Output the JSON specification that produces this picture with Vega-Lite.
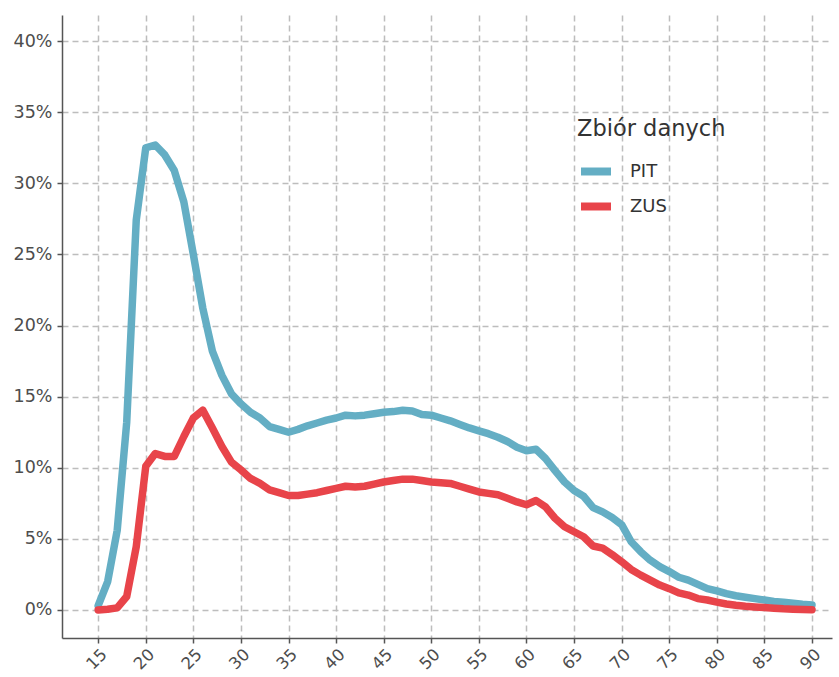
{
  "$schema": "https://vega.github.io/schema/vega-lite/v6.json",
  "width": 770,
  "height": 623,
  "autosize": {"type": "none"},
  "padding": {"left": 62, "top": 15, "right": 7, "bottom": 39},
  "background": "white",
  "config": {
    "view": {"stroke": null},
    "font": "DejaVu Sans",
    "axis": {
      "grid": true,
      "gridColor": "#bdbdbd",
      "gridDash": [6, 4],
      "gridWidth": 1.5,
      "domainColor": "#555555",
      "domainWidth": 1.5,
      "tickColor": "#555555",
      "tickSize": 5,
      "tickWidth": 1.5,
      "labelColor": "#4d4d4d",
      "labelFontSize": 17.5,
      "labelFont": "DejaVu Sans",
      "title": null
    }
  },
  "data": {
    "values": [
      {"age": 15, "set": "PIT", "v": 0.3}, {"age": 16, "set": "PIT", "v": 2.0}, {"age": 17, "set": "PIT", "v": 5.6}, {"age": 18, "set": "PIT", "v": 13.2}, {"age": 19, "set": "PIT", "v": 27.4},
      {"age": 20, "set": "PIT", "v": 32.5}, {"age": 21, "set": "PIT", "v": 32.7}, {"age": 22, "set": "PIT", "v": 32.0}, {"age": 23, "set": "PIT", "v": 30.9}, {"age": 24, "set": "PIT", "v": 28.7},
      {"age": 25, "set": "PIT", "v": 25.0}, {"age": 26, "set": "PIT", "v": 21.2}, {"age": 27, "set": "PIT", "v": 18.2}, {"age": 28, "set": "PIT", "v": 16.5}, {"age": 29, "set": "PIT", "v": 15.2},
      {"age": 30, "set": "PIT", "v": 14.5}, {"age": 31, "set": "PIT", "v": 13.9}, {"age": 32, "set": "PIT", "v": 13.5}, {"age": 33, "set": "PIT", "v": 12.9}, {"age": 34, "set": "PIT", "v": 12.7},
      {"age": 35, "set": "PIT", "v": 12.5}, {"age": 36, "set": "PIT", "v": 12.7}, {"age": 37, "set": "PIT", "v": 12.95}, {"age": 38, "set": "PIT", "v": 13.15}, {"age": 39, "set": "PIT", "v": 13.35},
      {"age": 40, "set": "PIT", "v": 13.5}, {"age": 41, "set": "PIT", "v": 13.7}, {"age": 42, "set": "PIT", "v": 13.65}, {"age": 43, "set": "PIT", "v": 13.7}, {"age": 44, "set": "PIT", "v": 13.8},
      {"age": 45, "set": "PIT", "v": 13.9}, {"age": 46, "set": "PIT", "v": 13.95}, {"age": 47, "set": "PIT", "v": 14.05}, {"age": 48, "set": "PIT", "v": 14.0}, {"age": 49, "set": "PIT", "v": 13.75},
      {"age": 50, "set": "PIT", "v": 13.7}, {"age": 51, "set": "PIT", "v": 13.5}, {"age": 52, "set": "PIT", "v": 13.3}, {"age": 53, "set": "PIT", "v": 13.05}, {"age": 54, "set": "PIT", "v": 12.8},
      {"age": 55, "set": "PIT", "v": 12.6}, {"age": 56, "set": "PIT", "v": 12.4}, {"age": 57, "set": "PIT", "v": 12.15}, {"age": 58, "set": "PIT", "v": 11.85}, {"age": 59, "set": "PIT", "v": 11.45},
      {"age": 60, "set": "PIT", "v": 11.2}, {"age": 61, "set": "PIT", "v": 11.3}, {"age": 62, "set": "PIT", "v": 10.65}, {"age": 63, "set": "PIT", "v": 9.8}, {"age": 64, "set": "PIT", "v": 9.0},
      {"age": 65, "set": "PIT", "v": 8.4}, {"age": 66, "set": "PIT", "v": 8.0}, {"age": 67, "set": "PIT", "v": 7.2}, {"age": 68, "set": "PIT", "v": 6.9}, {"age": 69, "set": "PIT", "v": 6.5},
      {"age": 70, "set": "PIT", "v": 6.0}, {"age": 71, "set": "PIT", "v": 4.8}, {"age": 72, "set": "PIT", "v": 4.1}, {"age": 73, "set": "PIT", "v": 3.5}, {"age": 74, "set": "PIT", "v": 3.05},
      {"age": 75, "set": "PIT", "v": 2.7}, {"age": 76, "set": "PIT", "v": 2.3}, {"age": 77, "set": "PIT", "v": 2.1}, {"age": 78, "set": "PIT", "v": 1.8}, {"age": 79, "set": "PIT", "v": 1.5},
      {"age": 80, "set": "PIT", "v": 1.35}, {"age": 81, "set": "PIT", "v": 1.15}, {"age": 82, "set": "PIT", "v": 1.0}, {"age": 83, "set": "PIT", "v": 0.9}, {"age": 84, "set": "PIT", "v": 0.8},
      {"age": 85, "set": "PIT", "v": 0.7}, {"age": 86, "set": "PIT", "v": 0.6}, {"age": 87, "set": "PIT", "v": 0.55}, {"age": 88, "set": "PIT", "v": 0.47}, {"age": 89, "set": "PIT", "v": 0.4},
      {"age": 90, "set": "PIT", "v": 0.35},
      {"age": 15, "set": "ZUS", "v": 0.0}, {"age": 16, "set": "ZUS", "v": 0.05}, {"age": 17, "set": "ZUS", "v": 0.15}, {"age": 18, "set": "ZUS", "v": 0.95}, {"age": 19, "set": "ZUS", "v": 4.45},
      {"age": 20, "set": "ZUS", "v": 10.1}, {"age": 21, "set": "ZUS", "v": 11.0}, {"age": 22, "set": "ZUS", "v": 10.8}, {"age": 23, "set": "ZUS", "v": 10.8}, {"age": 24, "set": "ZUS", "v": 12.2},
      {"age": 25, "set": "ZUS", "v": 13.5}, {"age": 26, "set": "ZUS", "v": 14.05}, {"age": 27, "set": "ZUS", "v": 12.8}, {"age": 28, "set": "ZUS", "v": 11.5}, {"age": 29, "set": "ZUS", "v": 10.4},
      {"age": 30, "set": "ZUS", "v": 9.85}, {"age": 31, "set": "ZUS", "v": 9.25}, {"age": 32, "set": "ZUS", "v": 8.9}, {"age": 33, "set": "ZUS", "v": 8.45}, {"age": 34, "set": "ZUS", "v": 8.25},
      {"age": 35, "set": "ZUS", "v": 8.05}, {"age": 36, "set": "ZUS", "v": 8.05}, {"age": 37, "set": "ZUS", "v": 8.15}, {"age": 38, "set": "ZUS", "v": 8.25}, {"age": 39, "set": "ZUS", "v": 8.4},
      {"age": 40, "set": "ZUS", "v": 8.55}, {"age": 41, "set": "ZUS", "v": 8.7}, {"age": 42, "set": "ZUS", "v": 8.65}, {"age": 43, "set": "ZUS", "v": 8.7}, {"age": 44, "set": "ZUS", "v": 8.85},
      {"age": 45, "set": "ZUS", "v": 9.0}, {"age": 46, "set": "ZUS", "v": 9.1}, {"age": 47, "set": "ZUS", "v": 9.2}, {"age": 48, "set": "ZUS", "v": 9.2}, {"age": 49, "set": "ZUS", "v": 9.1},
      {"age": 50, "set": "ZUS", "v": 9.0}, {"age": 51, "set": "ZUS", "v": 8.95}, {"age": 52, "set": "ZUS", "v": 8.9}, {"age": 53, "set": "ZUS", "v": 8.7}, {"age": 54, "set": "ZUS", "v": 8.5},
      {"age": 55, "set": "ZUS", "v": 8.3}, {"age": 56, "set": "ZUS", "v": 8.2}, {"age": 57, "set": "ZUS", "v": 8.1}, {"age": 58, "set": "ZUS", "v": 7.85}, {"age": 59, "set": "ZUS", "v": 7.6},
      {"age": 60, "set": "ZUS", "v": 7.4}, {"age": 61, "set": "ZUS", "v": 7.7}, {"age": 62, "set": "ZUS", "v": 7.25}, {"age": 63, "set": "ZUS", "v": 6.45}, {"age": 64, "set": "ZUS", "v": 5.85},
      {"age": 65, "set": "ZUS", "v": 5.5}, {"age": 66, "set": "ZUS", "v": 5.15}, {"age": 67, "set": "ZUS", "v": 4.5}, {"age": 68, "set": "ZUS", "v": 4.35}, {"age": 69, "set": "ZUS", "v": 3.9},
      {"age": 70, "set": "ZUS", "v": 3.4}, {"age": 71, "set": "ZUS", "v": 2.85}, {"age": 72, "set": "ZUS", "v": 2.45}, {"age": 73, "set": "ZUS", "v": 2.1}, {"age": 74, "set": "ZUS", "v": 1.75},
      {"age": 75, "set": "ZUS", "v": 1.5}, {"age": 76, "set": "ZUS", "v": 1.2}, {"age": 77, "set": "ZUS", "v": 1.05}, {"age": 78, "set": "ZUS", "v": 0.8}, {"age": 79, "set": "ZUS", "v": 0.7},
      {"age": 80, "set": "ZUS", "v": 0.55}, {"age": 81, "set": "ZUS", "v": 0.42}, {"age": 82, "set": "ZUS", "v": 0.33}, {"age": 83, "set": "ZUS", "v": 0.26}, {"age": 84, "set": "ZUS", "v": 0.21},
      {"age": 85, "set": "ZUS", "v": 0.17}, {"age": 86, "set": "ZUS", "v": 0.12}, {"age": 87, "set": "ZUS", "v": 0.08}, {"age": 88, "set": "ZUS", "v": 0.06}, {"age": 89, "set": "ZUS", "v": 0.04},
      {"age": 90, "set": "ZUS", "v": 0.02}
    ]
  },
  "mark": {"type": "line", "strokeWidth": 7.5, "strokeJoin": "round", "strokeCap": "round"},
  "encoding": {
    "x": {
      "field": "age", "type": "quantitative",
      "scale": {"domain": [11.2, 92.1], "nice": false, "zero": false},
      "axis": {"values": [15,20,25,30,35,40,45,50,55,60,65,70,75,80,85,90], "labelAngle": -45, "labelAlign": "right", "labelBaseline": "top", "labelPadding": 3, "labelFontSize": 16.5}
    },
    "y": {
      "field": "v", "type": "quantitative",
      "scale": {"domain": [-1.97, 41.84], "nice": false, "zero": false},
      "axis": {"values": [0,5,10,15,20,25,30,35,40], "labelExpr": "datum.value + '%'", "labelPadding": 5}
    },
    "color": {
      "field": "set", "type": "nominal",
      "scale": {"domain": ["PIT", "ZUS"], "range": ["#64AEC4", "#E8444A"]},
      "legend": {
        "title": "Zbiór danych",
        "orient": "none",
        "legendX": 515,
        "legendY": 103,
        "titleFont": "DejaVu Sans",
        "titleFontSize": 22.5,
        "titleFontWeight": "normal",
        "titleColor": "#333333",
        "titlePadding": 12,
        "labelFont": "DejaVu Sans",
        "labelFontSize": 18,
        "labelColor": "#333333",
        "labelOffset": 15,
        "symbolType": "stroke",
        "symbolSize": 900,
        "symbolStrokeWidth": 8,
        "rowPadding": 0
      }
    }
  }
}
